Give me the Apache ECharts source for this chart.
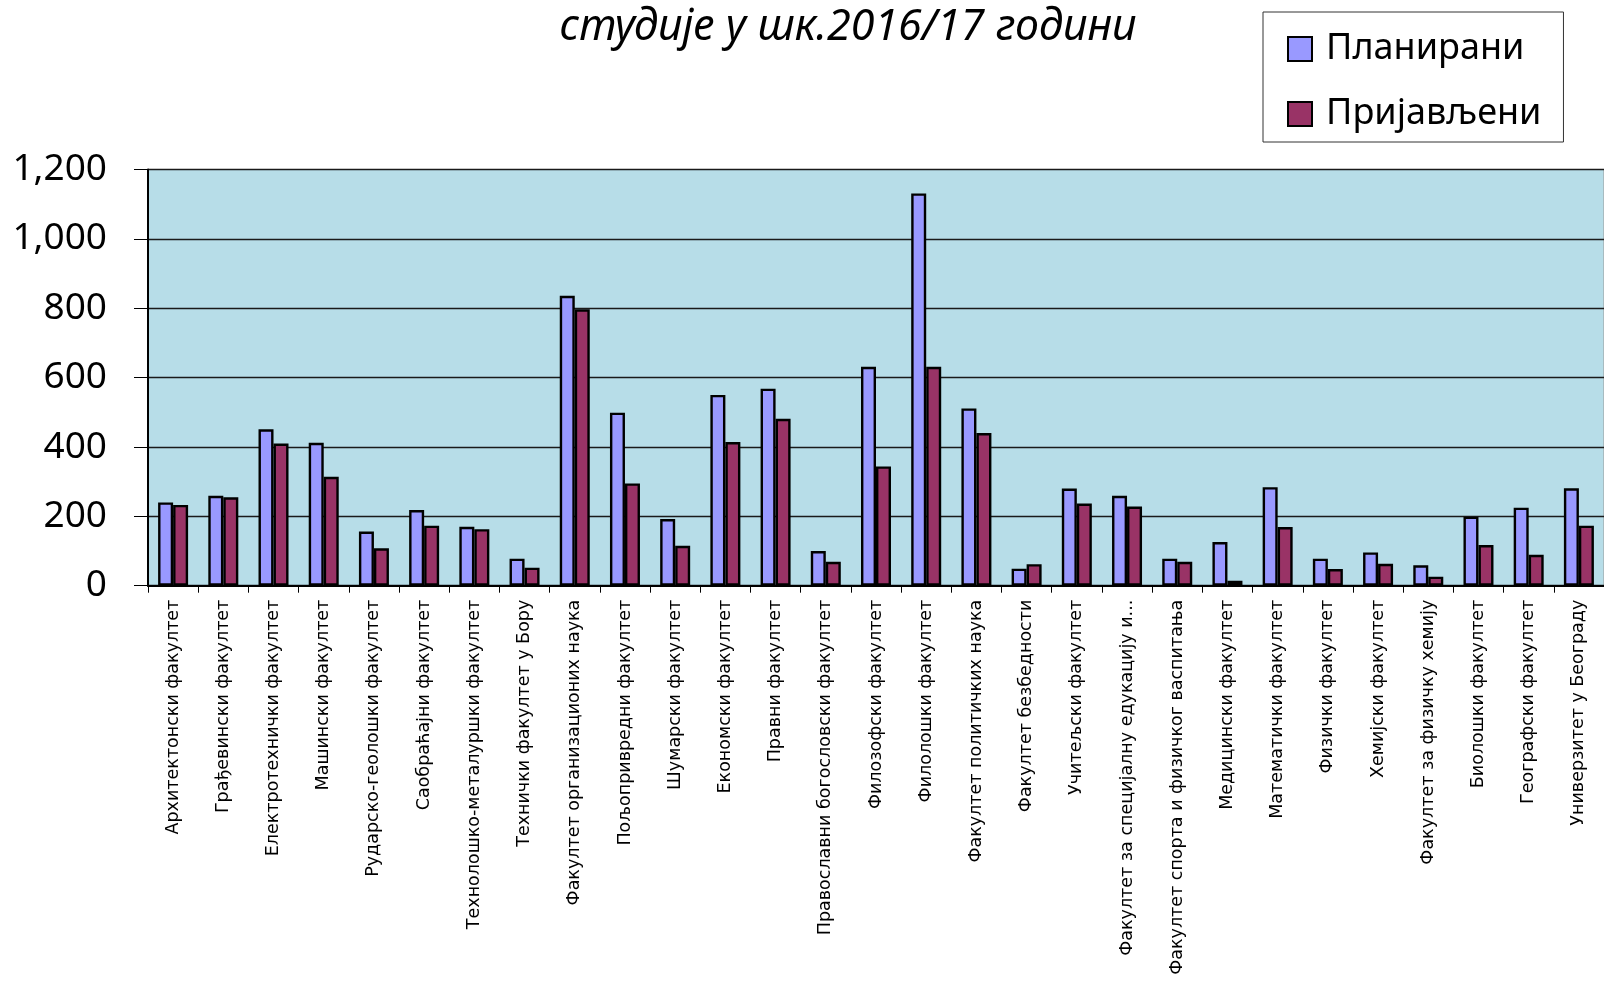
<!DOCTYPE html>
<html>
<head>
<meta charset="utf-8">
<script src="https://cdn.jsdelivr.net/npm/echarts@6/dist/echarts.min.js"></script>
<style>
	html, body { margin: 0; padding: 0; background: #fff; }
	#chart { width: 1604px; height: 981px; }
</style>
</head>
<body>
<div id="chart"></div>
<script>
const titleText = "студије у шк.2016/17 години";

const faculties = [
	"Архитектонски факултет",
	"Грађевински факултет",
	"Електротехнички факултет",
	"Машински факултет",
	"Рударско-геолошки факултет",
	"Саобраћајни факултет",
	"Технолошко-металуршки факултет",
	"Технички факултет у Бору",
	"Факултет организационих наука",
	"Пољопривредни факултет",
	"Шумарски факултет",
	"Економски факултет",
	"Правни факултет",
	"Православни богословски факултет",
	"Филозофски факултет",
	"Филолошки факултет",
	"Факултет политичких наука",
	"Факултет безбедности",
	"Учитељски факултет",
	"Факултет за специјалну едукацију и...",
	"Факултет спорта и физичког васпитања",
	"Медицински факултет",
	"Математички факултет",
	"Физички факултет",
	"Хемијски факултет",
	"Факултет за физичку хемију",
	"Биолошки факултет",
	"Географски факултет",
	"Универзитет у Београду"
];

const planned = [240, 259, 451, 412, 156, 218, 170, 78, 836, 499, 192, 550, 568, 100, 631, 1131, 511, 49, 280, 259, 78, 126, 284, 78, 96, 59, 199, 225, 281];
const applied = [233, 255, 410, 314, 108, 173, 163, 52, 797, 295, 115, 414, 481, 69, 344, 631, 440, 62, 237, 228, 69, 14, 169, 48, 63, 26, 117, 89, 173];

const seriesNames = ["Планирани", "Пријављени"];
const seriesColors = ["#9999FF", "#993366"];

const chart = echarts.init(document.getElementById("chart"));

const option = {
	animation: false,
	backgroundColor: "#ffffff",
	title: {
		text: titleText,
		left: 843,
		top: 1,
		textAlign: "center",
		textStyle: {
			fontFamily: "Noto Sans",
			fontStyle: "italic",
			fontWeight: "normal",
			fontSize: 43,
			color: "#000"
		}
	},
	legend: {
		orient: "vertical",
		left: 1263,
		top: 12,
		data: seriesNames,
		icon: "rect",
		itemWidth: 24,
		itemHeight: 24,
		itemGap: 29,
		padding: [19, 22, 10, 24],
		borderColor: "#333",
		borderWidth: 1,
		textStyle: {
			fontFamily: "Noto Sans",
			fontSize: 36,
			lineHeight: 36,
			color: "#000",
			padding: [0, 0, 0, 9]
		}
	},
	grid: {
		show: true,
		left: 148,
		top: 169.5,
		width: 1462,
		bottom: 395.3,
		backgroundColor: "#B7DDE8",
		borderColor: "#999",
		borderWidth: 1
	},
	xAxis: {
		type: "category",
		data: faculties,
		axisLine: { lineStyle: { color: "#000", width: 2 } },
		axisTick: { show: true, length: 7, lineStyle: { color: "#000" } },
		axisLabel: {
			rotate: 90,
			interval: 0,
			margin: 14,
			fontFamily: "DejaVu Sans",
			fontSize: 17.5,
			color: "#000"
		}
	},
	yAxis: {
		type: "value",
		min: 0,
		max: 1200,
		interval: 200,
		axisLine: { show: true, lineStyle: { color: "#000", width: 2 } },
		axisTick: { show: true, length: 14, lineStyle: { color: "#000" } },
		axisLabel: {
			margin: 41,
			fontFamily: "Noto Sans",
			fontSize: 37,
			color: "#000",
			formatter: v => v.toLocaleString("en-US")
		},
		splitLine: { lineStyle: { color: "#1a1a1a", width: 1.4 } }
	},
	series: [
		{
			name: seriesNames[0],
			type: "bar",
			data: planned,
			barWidth: 15,
			barGap: "0%",
			itemStyle: { color: seriesColors[0], borderColor: "#000", borderWidth: 2.4 }
		},
		{
			name: seriesNames[1],
			type: "bar",
			data: applied,
			barWidth: 15,
			barGap: "0%",
			itemStyle: { color: seriesColors[1], borderColor: "#000", borderWidth: 2.4 }
		}
	]
};

option && chart.setOption(option);
</script>
</body>
</html>
